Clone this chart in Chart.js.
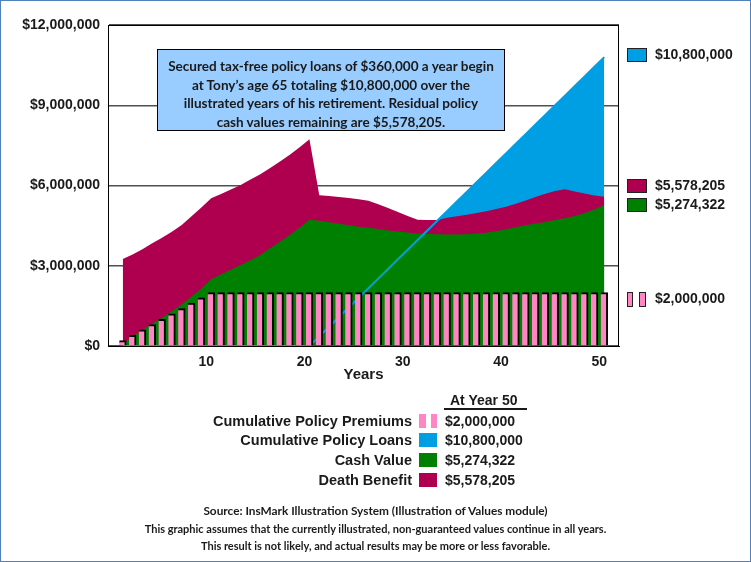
<!DOCTYPE html>
<html>
<head>
<meta charset="utf-8">
<script src="https://cdn.jsdelivr.net/npm/chart.js@4.4.1/dist/chart.umd.min.js"></script>
<style>
  html, body { margin: 0; padding: 0; background: #fff; }
  #page { position: relative; width: 751px; height: 562px; overflow: hidden; background: #fff;
          font-family: "Liberation Sans", Arial, sans-serif; color: #1a1a1a; }
  #c { position: absolute; left: 0; top: 0; }
  #frame { position: absolute; left: 0; top: 0; width: 751px; height: 562px; box-sizing: border-box;
           border: 1px solid #4F81BD; pointer-events: none; }
  .t { position: absolute; white-space: nowrap; line-height: 20px; height: 20px; }
  .sw { position: absolute; box-sizing: border-box; }
  #note { position: absolute; left: 157px; top: 49px; width: 348px; height: 82px; box-sizing: border-box;
          border: 1px solid #000; background: #99CCFF; }
</style>
</head>
<body>
<div id="page">
  <canvas id="c" width="751" height="390"></canvas>
  <div id="note"></div>
  <div id="frame"></div>
</div>
<script>
// ---------------- data ----------------
const years = [1,2,3,4,5,6,7,8,9,10,11,12,13,14,15,16,17,18,19,20,21,22,23,24,25,
               26,27,28,29,30,31,32,33,34,35,36,37,38,39,40,41,42,43,44,45,46,47,48,49,50];
const premiums = [200000,400000,600000,800000,1000000,1200000,1400000,1600000,1800000,2000000,
                  2000000,2000000,2000000,2000000,2000000,2000000,2000000,2000000,2000000,2000000,
                  2000000,2000000,2000000,2000000,2000000,2000000,2000000,2000000,2000000,2000000,
                  2000000,2000000,2000000,2000000,2000000,2000000,2000000,2000000,2000000,2000000,
                  2000000,2000000,2000000,2000000,2000000,2000000,2000000,2000000,2000000,2000000];
const loans = [0,0,0,0,0,0,0,0,0,0,0,0,0,0,0,0,0,0,0,0,
               360000,720000,1080000,1440000,1800000,2160000,2520000,2880000,3240000,3600000,
               3960000,4320000,4680000,5040000,5400000,5760000,6120000,6480000,6840000,7200000,
               7560000,7920000,8280000,8640000,9000000,9360000,9720000,10080000,10440000,10800000];
const cashValue = [100000,350000,600000,830000,1060000,1300000,1550000,1850000,2150000,2500000,
                   2670000,2850000,3030000,3210000,3400000,3650000,3900000,4150000,4420000,4720000,
                   4680000,4630000,4570000,4510000,4460000,4420000,4370000,4320000,4280000,4240000,
                   4210000,4190000,4180000,4170000,4170000,4180000,4200000,4230000,4290000,4360000,
                   4440000,4510000,4580000,4640000,4710000,4780000,4860000,4970000,5100000,5274322];
const deathBenefit = [3250000,3420000,3620000,3840000,4050000,4270000,4520000,4850000,5180000,5520000,
                      5680000,5850000,6020000,6220000,6420000,6650000,6900000,7150000,7430000,7730000,
                      5640000,5610000,5570000,5530000,5490000,5430000,5300000,5160000,5010000,4860000,
                      4720000,4710000,4710000,4790000,4850000,4910000,4970000,5040000,5120000,5210000,
                      5320000,5440000,5570000,5690000,5790000,5860000,5780000,5700000,5630000,5578205];
const yTickValues = [0, 3000000, 6000000, 9000000, 12000000];
const xTickLabels = [10, 20, 30, 40, 50];
const seriesNames = ['Cumulative Policy Premiums', 'Cumulative Policy Loans', 'Cash Value', 'Death Benefit'];
const legendHeader = 'At Year 50';
const axisTitle = 'Years';
const noteLines = ['Secured tax-free policy loans of $360,000 a year begin',
                   'at Tony\u2019s age 65 totaling $10,800,000 over the',
                   'illustrated years of his retirement. Residual policy',
                   'cash values remaining are $5,578,205.'];
const footerLines = ['Source: InsMark Illustration System (Illustration of Values module)',
                     'This graphic assumes that the currently illustrated, non-guaranteed values continue in all years.',
                     'This result is not likely, and actual results may be more or less favorable.'];

// ---------------- colours ----------------
const C_PINK = '#FF85C4', C_BLUE = '#009FE3', C_GREEN = '#008000', C_MAG = '#AF0050';

// each policy year is drawn at the middle of its interval on the year axis
const MID = 0.5;
const pts = arr => years.map((yr, i) => ({ x: yr + MID, y: arr[i] }));
const fmt = v => '$' + Math.round(v).toLocaleString('en-US');
const last = arr => arr[arr.length - 1];

const TICK_FONT = { family: '"Liberation Sans", Arial, sans-serif', size: 14, weight: 'bold' };

const framePlugin = {
  id: 'frame',
  afterDraw(chart) {
    const { ctx, chartArea: a } = chart;
    ctx.save();
    ctx.strokeStyle = '#000';
    ctx.lineWidth = 1;
    ctx.beginPath();
    ctx.moveTo(a.left, Math.round(a.top) + 0.5);
    ctx.lineTo(a.right, Math.round(a.top) + 0.5);
    ctx.moveTo(Math.round(a.right) - 0.5, a.top);
    ctx.lineTo(Math.round(a.right) - 0.5, a.bottom);
    ctx.stroke();
    ctx.restore();
  }
};

new Chart(document.getElementById('c'), {
  type: 'line',
  data: {
    datasets: [
      { type: 'bar', label: seriesNames[0], data: pts(premiums), backgroundColor: C_PINK,
        borderColor: '#000', borderWidth: { top: 2, right: 2, left: 0, bottom: 0 }, borderSkipped: false,
        barThickness: 7, order: 0 },
      { type: 'line', label: seriesNames[1], data: pts(loans), borderColor: C_BLUE, borderWidth: 2,
        pointRadius: 0, fill: false, tension: 0, order: 1 },
      { type: 'line', label: seriesNames[2], data: pts(cashValue), borderColor: 'rgba(0,0,0,0)', borderWidth: 0,
        backgroundColor: C_GREEN, fill: 'origin', pointRadius: 0, tension: 0, order: 2 },
      { type: 'line', label: seriesNames[3], data: pts(deathBenefit), borderColor: 'rgba(0,0,0,0)', borderWidth: 0,
        backgroundColor: C_MAG, fill: 'origin', pointRadius: 0, tension: 0, order: 3 },
      { type: 'line', label: seriesNames[1] + ' area', data: pts(loans), borderColor: 'rgba(0,0,0,0)', borderWidth: 0,
        backgroundColor: C_BLUE, fill: 'origin', pointRadius: 0, tension: 0, order: 4 }
    ]
  },
  options: {
    responsive: false,
    animation: false,
    devicePixelRatio: 1,
    layout: { padding: { left: 0, top: 25, right: 132, bottom: 0 } },
    plugins: { legend: { display: false }, tooltip: { enabled: false } },
    scales: {
      x: {
        type: 'linear', min: 0, max: 52, offset: false,
        afterBuildTicks: s => { s.ticks = xTickLabels.map(v => ({ value: v })); },
        afterFit: s => { s.height = 44; },
        grid: { display: false, drawTicks: false },
        border: { display: true, color: '#000', width: 1 },
        ticks: { font: TICK_FONT, color: '#1a1a1a', padding: 8, maxRotation: 0, autoSkip: false }
      },
      y: {
        type: 'linear', min: 0, max: 12000000,
        afterBuildTicks: s => { s.ticks = yTickValues.map(v => ({ value: v })); },
        afterFit: s => { s.width = 108; },
        grid: { color: '#505050', lineWidth: 1.5, drawTicks: false },
        border: { display: true, color: '#000', width: 1 },
        ticks: { font: TICK_FONT, color: '#1a1a1a', padding: 8, callback: v => fmt(v) }
      }
    }
  },
  plugins: [framePlugin]
});

// ---------------- text & legend (HTML) ----------------
const page = document.getElementById('page');
const mctx = document.createElement('canvas').getContext('2d');
function fitSize(text, family, weight, target) {
  mctx.font = weight + ' 20px ' + family;
  return 20 * target / mctx.measureText(text).width;
}
function addText(parent, txt, x, cy, align, font) {
  const d = document.createElement('div');
  d.className = 't';
  d.textContent = txt;
  d.style.top = (cy - 10) + 'px';
  d.style.font = font;
  d.style.lineHeight = '20px';
  if (align === 'left') { d.style.left = x + 'px'; }
  else if (align === 'right') { d.style.right = (parent.clientWidth - x) + 'px'; d.style.textAlign = 'right'; }
  else { d.style.left = (x - 400) + 'px'; d.style.width = '800px'; d.style.textAlign = 'center'; }
  parent.appendChild(d);
  return d;
}
function addBox(x, y, w, h, bg, border) {
  const d = document.createElement('div');
  d.className = 'sw';
  Object.assign(d.style, { left: x + 'px', top: y + 'px', width: w + 'px', height: h + 'px', background: bg });
  if (border) d.style.border = border;
  page.appendChild(d);
}

const ARIAL = '"Liberation Sans", Arial, sans-serif';
const CAL = 'Lato, "Open Sans", sans-serif';

// axis title
addText(page, axisTitle, 363.5, 374, 'center', 'bold 15px ' + ARIAL);

// annotation box
const note = document.getElementById('note');
const noteSize = fitSize(noteLines[0], CAL, 'bold', 327);
const noteCenters = [16, 34.5, 53, 71.5];
noteLines.forEach((ln, i) => addText(note, ln, 173, noteCenters[i], 'center', 'bold ' + noteSize.toFixed(2) + 'px ' + CAL));

// right-hand value labels
const RB = '1px solid #222';
addBox(627, 48, 20, 14, C_BLUE, RB);
addText(page, fmt(last(loans)), 655, 54, 'left', 'bold 14px ' + ARIAL);
addBox(627, 179, 20, 14, C_MAG, RB);
addText(page, fmt(last(deathBenefit)), 655, 185, 'left', 'bold 14px ' + ARIAL);
addBox(627, 198, 20, 14, C_GREEN, RB);
addText(page, fmt(last(cashValue)), 655, 204, 'left', 'bold 14px ' + ARIAL);
addBox(627, 292, 6, 15, C_PINK, RB);
addBox(639, 292, 7, 15, C_PINK, RB);
addText(page, fmt(last(premiums)), 655, 298, 'left', 'bold 14px ' + ARIAL);

// bottom legend table
addText(page, legendHeader, 450, 400, 'left', 'bold 14px ' + ARIAL);
addBox(444, 408, 83, 2, '#1a1a1a');
const rowY = [421, 440, 460, 480];
const rowVals = [last(premiums), last(loans), last(cashValue), last(deathBenefit)];
const LF = 'bold 14.5px ' + ARIAL;
seriesNames.forEach((nm, i) => {
  addText(page, nm, 412, rowY[i], 'right', LF);
  addText(page, fmt(rowVals[i]), 445, rowY[i], 'left', 'bold 14px ' + ARIAL);
});
addBox(419, rowY[0] - 7, 7, 14, C_PINK);
addBox(431, rowY[0] - 7, 6, 14, C_PINK);
addBox(419, rowY[1] - 7, 18, 14, C_BLUE);
addBox(419, rowY[2] - 7, 18, 14, C_GREEN);
addBox(419, rowY[3] - 7, 18, 14, C_MAG);

// footer
const footerY = [511, 529, 546];
const f1 = fitSize(footerLines[0], CAL, 'bold', 345);
const footerSizes = [f1, f1 * 0.93, f1 * 0.93];
footerLines.forEach((ln, i) => {
  addText(page, ln, 375.5, footerY[i], 'center', 'bold ' + footerSizes[i].toFixed(2) + 'px ' + CAL);
});
</script>
</body>
</html>
